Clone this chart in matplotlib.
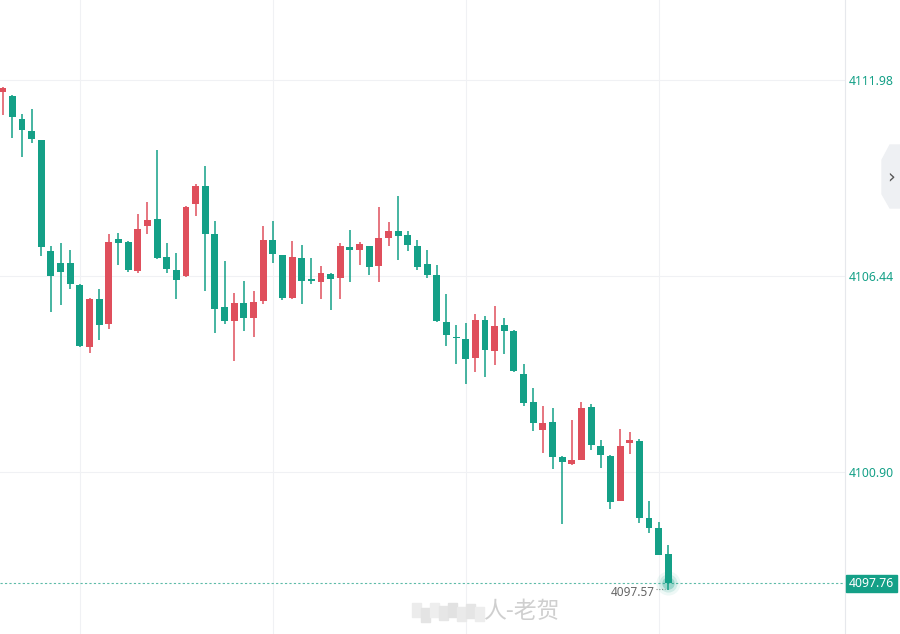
import numpy as np
import matplotlib
matplotlib.use("Agg")
import matplotlib.pyplot as plt
from matplotlib.patches import Polygon, Rectangle

# OHLC (red = up, green = down)
opens = [4111.65, 4111.54, 4110.88, 4110.54, 4110.28, 4107.15, 4106.81, 4106.81, 4106.19, 4104.44,
         4105.79, 4105.08, 4107.49, 4107.40, 4106.59, 4107.85, 4108.05, 4106.99, 4106.61, 4106.44,
         4108.48, 4108.99, 4107.63, 4105.56, 4105.18, 4105.68, 4105.26, 4105.74, 4107.46, 4107.03,
         4105.83, 4106.95, 4106.34, 4106.27, 4106.50, 4106.39, 4107.26, 4107.18, 4107.29, 4106.73,
         4107.52, 4107.71, 4107.60, 4107.29, 4106.78, 4106.47, 4105.14, 4104.72, 4104.66, 4104.12,
         4105.20, 4104.32, 4105.06, 4104.89, 4103.67, 4102.88, 4102.09, 4102.31, 4101.32, 4101.13,
         4101.25, 4102.75, 4101.64, 4101.35, 4100.09, 4101.73, 4101.78, 4099.61, 4099.33, 4098.59]
highs = [4111.78, 4111.56, 4111.02, 4111.16, 4110.28, 4107.29, 4107.38, 4107.18, 4106.21, 4105.81,
         4106.07, 4107.62, 4107.65, 4107.43, 4108.19, 4108.53, 4110.00, 4107.38, 4107.08, 4108.42,
         4109.04, 4109.55, 4107.99, 4106.86, 4105.95, 4106.30, 4106.02, 4107.85, 4108.00, 4107.03,
         4107.43, 4107.31, 4106.95, 4106.72, 4106.52, 4107.38, 4107.74, 4107.40, 4107.29, 4108.40,
         4107.97, 4108.70, 4107.71, 4107.46, 4107.16, 4106.75, 4105.93, 4105.06, 4105.11, 4105.37,
         4105.31, 4105.60, 4105.25, 4104.91, 4103.95, 4103.27, 4102.77, 4102.71, 4101.35, 4102.37,
         4102.88, 4102.82, 4101.80, 4101.37, 4102.12, 4102.03, 4101.82, 4100.08, 4099.49, 4098.83]
lows = [4110.99, 4110.35, 4109.81, 4110.19, 4107.01, 4105.43, 4105.62, 4106.07, 4104.44, 4104.27,
        4104.63, 4104.95, 4106.75, 4106.56, 4106.52, 4107.63, 4106.93, 4106.53, 4105.80, 4106.42,
        4108.14, 4106.02, 4104.82, 4105.07, 4104.04, 4104.89, 4104.72, 4105.65, 4106.82, 4105.76,
        4105.79, 4105.65, 4106.22, 4105.80, 4105.48, 4105.80, 4106.28, 4106.75, 4106.47, 4106.28,
        4107.29, 4106.89, 4107.15, 4106.61, 4106.39, 4105.15, 4104.47, 4103.95, 4103.39, 4103.73,
        4103.59, 4103.93, 4104.24, 4103.72, 4102.77, 4102.06, 4101.44, 4100.99, 4099.43, 4101.10,
        4101.24, 4101.52, 4101.01, 4099.85, 4100.07, 4101.41, 4099.47, 4099.17, 4098.54, 4097.57]
closes = [4111.75, 4110.94, 4110.57, 4110.31, 4107.27, 4106.45, 4106.56, 4106.22, 4104.47, 4105.79,
          4105.06, 4107.40, 4107.38, 4106.61, 4107.77, 4108.02, 4106.96, 4106.65, 4106.33, 4108.39,
          4108.99, 4107.63, 4105.52, 4105.18, 4105.68, 4105.26, 4105.71, 4107.46, 4107.07, 4105.83,
          4106.98, 4106.31, 4106.31, 4106.52, 4106.34, 4107.29, 4107.16, 4107.35, 4106.70, 4107.51,
          4107.71, 4107.58, 4107.32, 4106.70, 4106.47, 4105.17, 4104.77, 4104.69, 4104.09, 4105.20,
          4104.35, 4105.03, 4104.89, 4103.74, 4102.85, 4102.29, 4102.29, 4101.33, 4101.18, 4101.24,
          4102.72, 4101.67, 4101.38, 4100.06, 4101.64, 4101.81, 4099.61, 4099.33, 4098.56, 4097.76]
price_ticks = [4111.98, 4106.44, 4100.90]
grid_idx = [8, 28, 48, 68]

UP = '#df4f5c'
DOWN = '#14a087'

o = np.array(opens); h = np.array(highs); l = np.array(lows); c = np.array(closes)
x = np.arange(len(o))
cols = np.where(c > o, UP, DOWN)

fig = plt.figure(figsize=(9, 6.34), dpi=100)
ax = fig.add_axes([0, 0, 845 / 900, 1])

ax.set_xlim(-0.28, 87.32)
ax.set_ylim(4096.32, 4114.24)

for gx in grid_idx:
    ax.axvline(gx, color='#f0f1f4', lw=0.8, zorder=0)
for p in price_ticks:
    ax.axhline(p, color='#f0f1f4', lw=0.8, zorder=0)

ax.vlines(x, l, h, colors=cols, lw=1.1, zorder=2)
bottom = np.minimum(o, c)
height = np.maximum(np.abs(c - o), 0.03)
ax.bar(x, height, bottom=bottom, width=0.72, color=cols, zorder=3)

# last price line + glow
last = closes[-1]
ax.axhline(last, color='#5dbba8', lw=0.8, ls=(0, (2, 2)), zorder=1)
for s, a in [(300, 0.07), (170, 0.14), (80, 0.28)]:
    ax.scatter([x[-1]], [last], s=s, color=DOWN, alpha=a, lw=0, zorder=4)

# low marker
ax.text(67.55, lows[-1] - 0.07, '4097.57', ha='right', va='center',
        fontsize=8.5, color='#666666', family='Noto Sans')
ax.plot([67.7, 68.7], [lows[-1] + 0.02, lows[-1] + 0.02], ls=(0, (1, 1.5)),
        color='#888888', lw=0.8)

# right axis
ax.yaxis.tick_right()
ax.set_yticks(price_ticks)
ax.set_yticklabels([f'{p:.2f}' for p in price_ticks])
ax.tick_params(axis='y', length=0, pad=3, labelsize=8.8, labelcolor=DOWN)
for lab in ax.get_yticklabels():
    lab.set_family('Noto Sans')
ax.set_xticks([])
for side in ['top', 'left', 'bottom']:
    ax.spines[side].set_visible(False)
ax.spines['right'].set_color('#e6e8ec')
ax.spines['right'].set_linewidth(0.8)

# last price box on the axis
fig.patches.append(Rectangle((846 / 900, 1 - 592 / 634), 51 / 900, 17 / 634,
                             transform=fig.transFigure, color=DOWN, zorder=5))
fig.text(871.5 / 900, 1 - 583.5 / 634, f'{last:.2f}', ha='center', va='center',
         color='white', fontsize=8.8, family='Noto Sans', zorder=6)

# collapse tab on the right
pts = [(900, 145), (890, 145), (882, 160), (882, 194), (890, 208), (900, 208)]
fig.patches.append(Polygon([(px / 900, 1 - py / 634) for px, py in pts], closed=True,
                           transform=fig.transFigure, color='#eef0f3', zorder=5))
fig.text(891 / 900, 1 - 177 / 634, '›', ha='center', va='center', fontsize=14,
         color='#555555', zorder=6)

# watermark (pixelated part + readable part)
blocks = [(412, 603, '#ececec'), (421, 608, '#e4e4e4'), (430, 603, '#eeeeee'),
          (439, 606, '#e6e6e6'), (448, 603, '#e2e2e2'), (457, 607, '#eaeaea'),
          (466, 604, '#e5e5e5'), (475, 607, '#ededed')]
for bx, by, bc in blocks:
    fig.patches.append(Rectangle((bx / 900, 1 - (by + 14) / 634), 9 / 900, 14 / 634,
                                 transform=fig.transFigure, color=bc, zorder=5))
fig.text(483 / 900, 1 - 612 / 634, '人-老贺', ha='left', va='center', fontsize=16.5,
         color='#cfcfcf', family=['Noto Sans CJK SC', 'DejaVu Sans'], zorder=6)

fig.savefig('out.png', dpi=100)
